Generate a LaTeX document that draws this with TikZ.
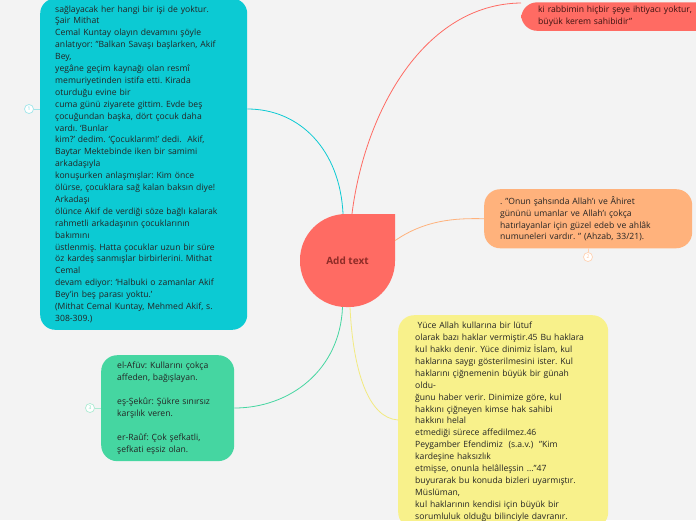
\documentclass[tikz,border=0pt]{standalone}
\usepackage{fontspec}
\setmainfont{Open Sans}
\usetikzlibrary{positioning,calc}
\definecolor{grey100}  {HTML}{F3F3F3}
\definecolor{ink}      {HTML}{242424}
\definecolor{teal500}  {HTML}{0CCAD3}
\definecolor{teal200}  {HTML}{9FE6EA}
\definecolor{teal300}  {HTML}{6FD8DE}
\definecolor{red500}   {HTML}{FF6B63}
\definecolor{red900}   {HTML}{8E2C27}
\definecolor{red950}   {HTML}{3A1311}
\definecolor{orange300}{HTML}{FFB27C}
\definecolor{orange200}{HTML}{FFD2B2}
\definecolor{orange250}{HTML}{FFC096}
\definecolor{green400} {HTML}{45D6A1}
\definecolor{green200} {HTML}{ABEBD3}
\definecolor{green300} {HTML}{7FE0BC}
\definecolor{yellow200}{HTML}{F8F18B}
\definecolor{yellow300}{HTML}{F2EA80}
\tikzset{
  topic/.style  ={rounded corners=16pt, align=left, inner xsep=16pt,
                  inner ysep=7pt, text=ink,
                  font=\fontsize{8.6}{11.9}\selectfont\frenchspacing},
  topict/.style ={topic, fill=teal500, rounded corners=15pt,
                  inner xsep=15pt, text width=177pt},
  topicr/.style ={topic, fill=red500, text=red950, inner xsep=17pt,
                  inner ysep=4pt, text width=200pt},
  topico/.style ={topic, fill=orange300, text width=176pt,
                  minimum height=57pt},
  topicg/.style ={topic, fill=green400, text width=101pt,
                  minimum height=105pt},
  topicy/.style ={topic, fill=yellow200, inner xsep=17pt,
                  text width=176pt},
  rootn/.style  ={minimum width=95pt, minimum height=93pt, inner sep=0pt,
                  text=red900, font=\fontsize{10}{12}\selectfont\bfseries},
  lk/.style     ={line width=0.8pt},
  num/.style    ={circle, draw, line width=0.7pt, fill=white, inner sep=0pt,
                  minimum size=9pt, font=\fontsize{5}{5}\selectfont}
}
\begin{document}
\begin{tikzpicture}[x=1pt,y=-1pt]
\useasboundingbox (0,0) rectangle (696,520);
\fill[grey100] (0,0) rectangle (696,520);
\clip (0,0) rectangle (696,520);

% central topic
\fill[red500] (395,214) [rounded corners=46pt] -- (395,307) -- (300,307)
  -- (300,214) -- (395,214);
\node[rootn] (root) at (347.5,260.5) {Add text};

% branches
\node[topict, anchor=south west] (teal) at (40,330)
  {sağlayacak her hangi bir işi de yoktur.\\
   Şair Mithat\\
   Cemal Kuntay olayın devamını şöyle\\
   anlatıyor: "Balkan Savaşı başlarken, Akif\\
   Bey,\\
   yegâne geçim kaynağı olan resmî\\
   memuriyetinden istifa etti. Kirada\\
   oturduğu evine bir\\
   cuma günü ziyarete gittim. Evde beş\\
   çocuğundan başka, dört çocuk daha\\
   vardı. ‘Bunlar\\
   kim?’ dedim. ‘Çocuklarım!’ dedi.\ \ Akif,\\
   Baytar Mektebinde iken bir samimi\\
   arkadaşıyla\\
   konuşurken anlaşmışlar: Kim önce\\
   ölürse, çocuklara sağ kalan baksın diye!\\
   Arkadaşı\\
   ölünce Akif de verdiği söze bağlı kalarak\\
   rahmetli arkadaşının çocuklarının\\
   bakımını\\
   üstlenmiş. Hatta çocuklar uzun bir süre\\
   öz kardeş sanmışlar birbirlerini. Mithat\\
   Cemal\\
   devam ediyor: ‘Halbuki o zamanlar Akif\\
   Bey’in beş parası yoktu.’\\
   (Mithat Cemal Kuntay, Mehmed Akif, s.\\
   308-309.)};
\node[topicr, anchor=south west] (red) at (521,31)
  {ki rabbimin hiçbir şeye ihtiyacı yoktur,\\
   büyük kerem sahibidir"};
\node[topico, anchor=north west] (orange) at (484,189)
  {. "Onun şahsında Allah’ı ve Âhiret\\
   gününü umanlar ve Allah’ı çokça\\
   hatırlayanlar için güzel edeb ve ahlâk\\
   numuneleri vardır. " (Ahzab, 33/21).};
\node[topicg, anchor=north west] (green) at (101,355)
  {el-Afüv: Kullarını çokça\\
   affeden, bağışlayan.\\[11.9pt]
   eş-Şekûr: Şükre sınırsız\\
   karşılık veren.\\[11.9pt]
   er-Raûf: Çok şefkatli,\\
   şefkati eşsiz olan.};
\node[topicy, anchor=north west] (yellow) at (398,315)
  {\hspace*{2.5pt}Yüce Allah kullarına bir lütuf\\
   olarak bazı haklar vermiştir.45 Bu haklara\\
   kul hakkı denir. Yüce dinimiz İslam, kul\\
   haklarına saygı gösterilmesini ister. Kul\\
   haklarını çiğnemenin büyük bir günah\\
   oldu-\\
   ğunu haber verir. Dinimize göre, kul\\
   hakkını çiğneyen kimse hak sahibi\\
   hakkını helal\\
   etmediği sürece affedilmez.46\\
   Peygamber Efendimiz\ \ (s.a.v.)\ \ "Kim\\
   kardeşine haksızlık\\
   etmişse, onunla helâlleşsin ..."47\\
   buyurarak bu konuda bizleri uyarmıştır.\\
   Müslüman,\\
   kul haklarının kendisi için büyük bir\\
   sorumluluk olduğu bilinciyle davranır.};

% markers
\node[num, draw=teal200, text=teal300] (num1) at (29,109) {1};
\node[num, draw=orange200, text=orange250] (num2) at (588,257) {2};
\node[num, draw=green200, text=green300] (num3) at (90,408) {3};
\draw[lk, draw=teal200] (num1) -- (num1 -| teal.west);
\draw[lk, draw=orange200] (num2) -- (num2 |- orange.south);
\draw[lk, draw=green200] (num3) -- (num3 -| green.west);

% connectors
\coordinate (tealport) at (teal.east |- 0,109);
\coordinate (redport) at (red.west |- 0,3);
\coordinate (yellowport) at (yellow.west |- 0,420);
\draw[lk, draw=teal500] ([xshift=-4.5pt]root.north)
  .. controls (340,150) and (300,109) .. (tealport);
\draw[lk, draw=red500] ([xshift=4.5pt]root.north)
  .. controls (365,110) and (425,4) .. (redport);
\draw[lk, draw=orange300] ([yshift=20pt]root.east)
  .. controls (425,220) and (455,218) .. (orange.west);
\draw[lk, draw=green400] ([xshift=-5pt]root.south)
  .. controls (340,370) and (290,408) .. (num3 -| green.east);
\draw[lk, draw=yellow300] ([xshift=2.5pt]root.south)
  .. controls (353,370) and (368,418) .. (yellowport);
\end{tikzpicture}
\end{document}
